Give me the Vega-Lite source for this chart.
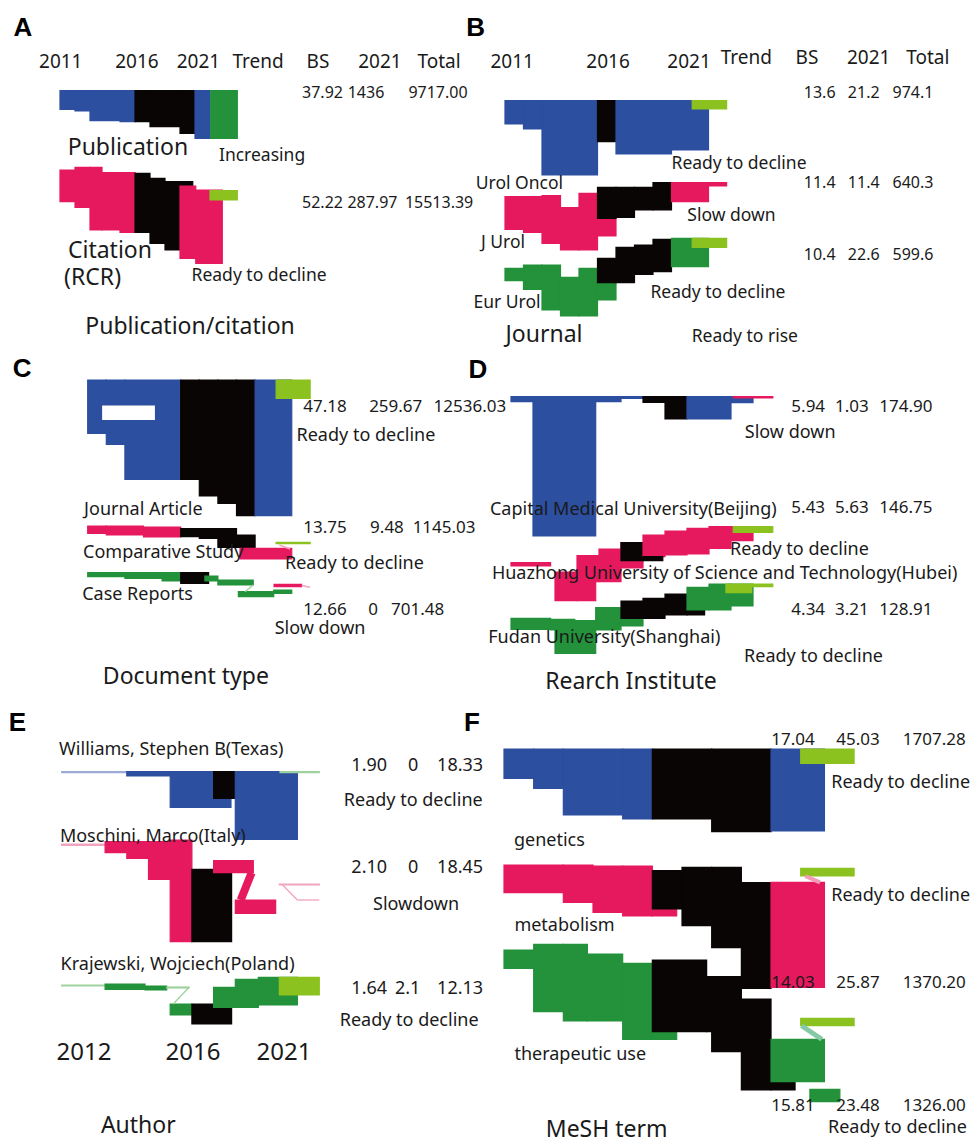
{
"$schema": "https://vega.github.io/schema/vega-lite/v6.json",
"padding": 0,
"background": "white",
"datasets": {
"bars": [
{"panel":"A","kind":"s1","start":2012,"end":2013,"top":90.7,"bottom":109.3},
{"panel":"A","kind":"s1","start":2013,"end":2014,"top":90.7,"bottom":111},
{"panel":"A","kind":"s1","start":2014,"end":2016,"top":90.7,"bottom":120.7},
{"panel":"A","kind":"s1","start":2016,"end":2017,"top":90.7,"bottom":121.7},
{"panel":"A","kind":"burst","start":2017,"end":2018,"top":90.7,"bottom":121.7},
{"panel":"A","kind":"burst","start":2018,"end":2020,"top":90.7,"bottom":126.7},
{"panel":"A","kind":"burst","start":2020,"end":2021,"top":90.7,"bottom":133.3},
{"panel":"A","kind":"s1","start":2021,"end":2022,"top":90.7,"bottom":138.3},
{"panel":"A","kind":"up","start":2022.05,"end":2023.82,"top":90.7,"bottom":138.3},
{"panel":"A","kind":"s2","start":2012,"end":2013,"top":170,"bottom":201.7},
{"panel":"A","kind":"s2","start":2013,"end":2014,"top":167.3,"bottom":207.3},
{"panel":"A","kind":"s2","start":2014,"end":2014.8,"top":167.3,"bottom":230},
{"panel":"A","kind":"s2","start":2014.8,"end":2016,"top":172.7,"bottom":230},
{"panel":"A","kind":"s2","start":2016,"end":2017,"top":172.7,"bottom":232.3},
{"panel":"A","kind":"burst","start":2017,"end":2018,"top":173.3,"bottom":232.3},
{"panel":"A","kind":"burst","start":2018,"end":2019,"top":178.3,"bottom":243.3},
{"panel":"A","kind":"burst","start":2019,"end":2020,"top":181.7,"bottom":250},
{"panel":"A","kind":"burst","start":2020,"end":2020.85,"top":181.7,"bottom":186},
{"panel":"A","kind":"s2","start":2020,"end":2021.05,"top":186,"bottom":258.3},
{"panel":"A","kind":"s2","start":2021.05,"end":2022.82,"top":190,"bottom":263.3},
{"panel":"A","kind":"trend","start":2022,"end":2023.82,"top":190.7,"bottom":200},

{"panel":"B","kind":"s1","start":2011,"end":2012,"top":100.7,"bottom":124},
{"panel":"B","kind":"s1","start":2012,"end":2013,"top":100.7,"bottom":129},
{"panel":"B","kind":"s1","start":2013,"end":2016,"top":100.7,"bottom":175},
{"panel":"B","kind":"burst","start":2016,"end":2017,"top":100.7,"bottom":141.7},
{"panel":"B","kind":"s1","start":2017,"end":2020,"top":100.7,"bottom":154},
{"panel":"B","kind":"s1","start":2020,"end":2022,"top":100.7,"bottom":150},
{"panel":"B","kind":"trend","start":2021.12,"end":2022.98,"top":100.7,"bottom":109},
{"panel":"B","kind":"s2","start":2011,"end":2012,"top":196.7,"bottom":229.3},
{"panel":"B","kind":"s2","start":2012,"end":2013,"top":196.7,"bottom":232.3},
{"panel":"B","kind":"s2","start":2013,"end":2014,"top":195.7,"bottom":243.3},
{"panel":"B","kind":"s2","start":2014,"end":2015,"top":207.7,"bottom":250},
{"panel":"B","kind":"s2","start":2015,"end":2016,"top":193.3,"bottom":250},
{"panel":"B","kind":"s2","start":2016,"end":2017,"top":193.3,"bottom":236},
{"panel":"B","kind":"burst","start":2016,"end":2017,"top":187.3,"bottom":218.3},
{"panel":"B","kind":"burst","start":2017,"end":2018,"top":187.3,"bottom":217.3},
{"panel":"B","kind":"burst","start":2018,"end":2019,"top":187.3,"bottom":210},
{"panel":"B","kind":"burst","start":2019,"end":2020,"top":182.7,"bottom":210},
{"panel":"B","kind":"s2","start":2020,"end":2022,"top":182.7,"bottom":201.7},
{"panel":"B","kind":"s2","start":2022,"end":2022.98,"top":182.7,"bottom":186},
{"panel":"B","kind":"s3","start":2011,"end":2012,"top":268.3,"bottom":280.7},
{"panel":"B","kind":"s3","start":2012,"end":2013,"top":265,"bottom":289.3},
{"panel":"B","kind":"s3","start":2013,"end":2014,"top":265,"bottom":310},
{"panel":"B","kind":"s3","start":2014,"end":2015,"top":277.3,"bottom":316},
{"panel":"B","kind":"s3","start":2015,"end":2016,"top":268.3,"bottom":316},
{"panel":"B","kind":"s3","start":2016,"end":2017,"top":268.3,"bottom":300},
{"panel":"B","kind":"burst","start":2016,"end":2017,"top":258.3,"bottom":282.7},
{"panel":"B","kind":"burst","start":2017,"end":2018,"top":247.3,"bottom":282.7},
{"panel":"B","kind":"burst","start":2018,"end":2019,"top":245,"bottom":274.3},
{"panel":"B","kind":"burst","start":2019,"end":2020,"top":239.3,"bottom":271.7},
{"panel":"B","kind":"s3","start":2020,"end":2022,"top":238.3,"bottom":266.7},
{"panel":"B","kind":"trend","start":2021.12,"end":2022.98,"top":238.3,"bottom":247.3},

{"panel":"C","kind":"s1","start":2011,"end":2012,"top":30,"bottom":83.3},
{"panel":"C","kind":"s1","start":2012,"end":2013,"top":30,"bottom":94.3},
{"panel":"C","kind":"s1","start":2013,"end":2016,"top":30,"bottom":129.3},
{"panel":"C","kind":"white","start":2011.81,"end":2014.58,"top":56,"bottom":69.3},
{"panel":"C","kind":"burst","start":2016,"end":2017,"top":30,"bottom":129.3},
{"panel":"C","kind":"burst","start":2017,"end":2018,"top":30,"bottom":146},
{"panel":"C","kind":"burst","start":2018,"end":2019,"top":30,"bottom":153.3},
{"panel":"C","kind":"burst","start":2019,"end":2020,"top":30,"bottom":165.7},
{"panel":"C","kind":"s1","start":2020,"end":2021.97,"top":30,"bottom":165.7},
{"panel":"C","kind":"trend","start":2021.13,"end":2022.96,"top":30,"bottom":48.3},
{"panel":"C","kind":"s2","start":2011,"end":2012,"top":176,"bottom":183.3},
{"panel":"C","kind":"s2","start":2012,"end":2014,"top":176,"bottom":185},
{"panel":"C","kind":"s2","start":2014,"end":2016,"top":177,"bottom":187},
{"panel":"C","kind":"burst","start":2016,"end":2017,"top":178.7,"bottom":186.7},
{"panel":"C","kind":"burst","start":2017,"end":2018,"top":178.7,"bottom":188.3},
{"panel":"C","kind":"burst","start":2018,"end":2019,"top":178.7,"bottom":197.3},
{"panel":"C","kind":"burst","start":2019,"end":2020,"top":185,"bottom":197.3},
{"panel":"C","kind":"s2","start":2019.19,"end":2021.97,"top":198.3,"bottom":209},
{"panel":"C","kind":"trend","start":2021.13,"end":2022.96,"top":192.3,"bottom":193.7},
{"panel":"C","kind":"s3","start":2011,"end":2013,"top":222.7,"bottom":226.7},
{"panel":"C","kind":"s3","start":2013,"end":2015,"top":222.7,"bottom":228.3},
{"panel":"C","kind":"s3","start":2015,"end":2016,"top":222.7,"bottom":231},
{"panel":"C","kind":"burst","start":2016,"end":2017.5,"top":222.7,"bottom":233.3},
{"panel":"C","kind":"s3","start":2017.3,"end":2018,"top":226,"bottom":231},
{"panel":"C","kind":"s3","start":2018,"end":2019.9,"top":230,"bottom":235},
{"panel":"C","kind":"s3","start":2019.1,"end":2021,"top":241.7,"bottom":246.7},
{"panel":"C","kind":"s3","start":2021,"end":2021.97,"top":240,"bottom":243.3},
{"panel":"C","kind":"s2","start":2021.02,"end":2022.5,"top":234.3,"bottom":236.7},

{"panel":"D","kind":"s1","start":2011,"end":2012,"top":46.7,"bottom":51.7},
{"panel":"D","kind":"s1","start":2012,"end":2014.85,"top":46.7,"bottom":186},
{"panel":"D","kind":"s1","start":2014.85,"end":2016,"top":46.7,"bottom":51.7},
{"panel":"D","kind":"s1","start":2016,"end":2017,"top":46.7,"bottom":48.3},
{"panel":"D","kind":"burst","start":2017,"end":2018,"top":46.7,"bottom":52.3},
{"panel":"D","kind":"burst","start":2018,"end":2019,"top":46.7,"bottom":69},
{"panel":"D","kind":"s1","start":2019,"end":2021,"top":46.7,"bottom":69},
{"panel":"D","kind":"s1","start":2021,"end":2022,"top":46.7,"bottom":52.7},
{"panel":"D","kind":"s2","start":2021.1,"end":2022.9,"top":46.7,"bottom":48},
{"panel":"D","kind":"s2","start":2011,"end":2012.8,"top":212.7,"bottom":216},
{"panel":"D","kind":"s2","start":2013,"end":2014,"top":222,"bottom":250.7},
{"panel":"D","kind":"s2","start":2014,"end":2014.85,"top":205.7,"bottom":250.7},
{"panel":"D","kind":"s2","start":2014.85,"end":2015,"top":205.7,"bottom":231.7},
{"panel":"D","kind":"s2","start":2015,"end":2016,"top":199,"bottom":231.7},
{"panel":"D","kind":"s2","start":2016,"end":2017,"top":192.7,"bottom":218},
{"panel":"D","kind":"burst","start":2016,"end":2017,"top":192.7,"bottom":210.7},
{"panel":"D","kind":"s2","start":2017,"end":2018,"top":185,"bottom":206.7},
{"panel":"D","kind":"burst","start":2017,"end":2017.9,"top":206.7,"bottom":210.7},
{"panel":"D","kind":"s2","start":2018,"end":2019,"top":181,"bottom":205},
{"panel":"D","kind":"s2","start":2019,"end":2020,"top":178.3,"bottom":204},
{"panel":"D","kind":"s2","start":2020,"end":2021,"top":176.7,"bottom":198.3},
{"panel":"D","kind":"s2","start":2021,"end":2022,"top":176.7,"bottom":190.7},
{"panel":"D","kind":"trend","start":2021.1,"end":2022.9,"top":176.7,"bottom":182.3},
{"panel":"D","kind":"s3","start":2011,"end":2012.8,"top":268.3,"bottom":279.3},
{"panel":"D","kind":"s3","start":2012.8,"end":2013.9,"top":269.3,"bottom":280},
{"panel":"D","kind":"s3","start":2013,"end":2014.85,"top":280,"bottom":303.3},
{"panel":"D","kind":"s3","start":2013.9,"end":2014.85,"top":270.7,"bottom":280},
{"panel":"D","kind":"s3","start":2014.85,"end":2016,"top":257.7,"bottom":280},
{"panel":"D","kind":"s3","start":2016,"end":2017,"top":268.3,"bottom":276},
{"panel":"D","kind":"burst","start":2016,"end":2017,"top":251,"bottom":268.3},
{"panel":"D","kind":"burst","start":2017,"end":2018,"top":248.3,"bottom":268.3},
{"panel":"D","kind":"burst","start":2018,"end":2019,"top":244,"bottom":265},
{"panel":"D","kind":"burst","start":2019,"end":2019.8,"top":260,"bottom":265},
{"panel":"D","kind":"s3","start":2019,"end":2020,"top":237.3,"bottom":260},
{"panel":"D","kind":"s3","start":2020,"end":2021,"top":234,"bottom":260},
{"panel":"D","kind":"s3","start":2021,"end":2022,"top":234,"bottom":256},
{"panel":"D","kind":"trend","start":2020.77,"end":2021.94,"top":234,"bottom":242.7},
{"panel":"D","kind":"trend","start":2021.94,"end":2022.9,"top":234,"bottom":236.7},

{"panel":"E","kind":"f1","start":2011,"end":2014,"top":71.7,"bottom":72.7},
{"panel":"E","kind":"s1","start":2014,"end":2016,"top":71.7,"bottom":76},
{"panel":"E","kind":"s1","start":2016,"end":2018,"top":71.7,"bottom":107.3},
{"panel":"E","kind":"s1","start":2018,"end":2018.8,"top":98.3,"bottom":107.3},
{"panel":"E","kind":"burst","start":2018,"end":2019,"top":71.7,"bottom":98.3},
{"panel":"E","kind":"s1","start":2019,"end":2021.86,"top":71.7,"bottom":139.3},
{"panel":"E","kind":"f3","start":2021.06,"end":2022.87,"top":71.7,"bottom":72.7},
{"panel":"E","kind":"f2","start":2011,"end":2013,"top":144,"bottom":145.3},
{"panel":"E","kind":"s2","start":2013,"end":2014,"top":141.7,"bottom":152.7},
{"panel":"E","kind":"s2","start":2014,"end":2015,"top":141.7,"bottom":158.3},
{"panel":"E","kind":"s2","start":2015,"end":2016,"top":141.7,"bottom":179.3},
{"panel":"E","kind":"s2","start":2016,"end":2017,"top":140,"bottom":241.7},
{"panel":"E","kind":"burst","start":2017,"end":2018.83,"top":169.3,"bottom":241.7},
{"panel":"E","kind":"s2","start":2018,"end":2019.83,"top":160.7,"bottom":172.7},
{"panel":"E","kind":"s2","start":2019,"end":2020.86,"top":200,"bottom":213.3},
{"panel":"E","kind":"f2","start":2021.03,"end":2022.87,"top":184,"bottom":185},
{"panel":"E","kind":"f3","start":2011,"end":2013,"top":285,"bottom":286},
{"panel":"E","kind":"s3","start":2013,"end":2014.84,"top":284,"bottom":289.3},
{"panel":"E","kind":"s3","start":2014.84,"end":2015.84,"top":286,"bottom":290},
{"panel":"E","kind":"f3","start":2015.84,"end":2016.87,"top":287,"bottom":288},
{"panel":"E","kind":"s3","start":2016,"end":2017,"top":304,"bottom":315},
{"panel":"E","kind":"burst","start":2017,"end":2018.83,"top":304,"bottom":324},
{"panel":"E","kind":"s3","start":2018,"end":2019,"top":287.3,"bottom":307.3},
{"panel":"E","kind":"s3","start":2019,"end":2020.06,"top":279.3,"bottom":307.3},
{"panel":"E","kind":"s3","start":2020.06,"end":2021.86,"top":277.3,"bottom":305},
{"panel":"E","kind":"trend","start":2021.03,"end":2022.87,"top":277.3,"bottom":295},

{"panel":"F","kind":"s1","start":2011,"end":2012,"top":49,"bottom":78.3},
{"panel":"F","kind":"s1","start":2012,"end":2013,"top":49,"bottom":88.3},
{"panel":"F","kind":"s1","start":2013,"end":2015,"top":49,"bottom":115},
{"panel":"F","kind":"s1","start":2015,"end":2016,"top":49,"bottom":119},
{"panel":"F","kind":"burst","start":2016,"end":2018,"top":49,"bottom":119},
{"panel":"F","kind":"burst","start":2018,"end":2020,"top":49,"bottom":131.7},
{"panel":"F","kind":"s1","start":2020,"end":2021.8,"top":49,"bottom":131},
{"panel":"F","kind":"trend","start":2021,"end":2022.8,"top":49,"bottom":63.3},
{"panel":"F","kind":"s2","start":2011,"end":2013,"top":165,"bottom":192.7},
{"panel":"F","kind":"s2","start":2013,"end":2014,"top":165,"bottom":202.3},
{"panel":"F","kind":"s2","start":2014,"end":2015,"top":166,"bottom":212.3},
{"panel":"F","kind":"s2","start":2015,"end":2016,"top":166,"bottom":216},
{"panel":"F","kind":"s2","start":2016,"end":2016.82,"top":209,"bottom":216},
{"panel":"F","kind":"burst","start":2016,"end":2017,"top":170.7,"bottom":209},
{"panel":"F","kind":"burst","start":2017,"end":2018,"top":167.3,"bottom":225.7},
{"panel":"F","kind":"burst","start":2018,"end":2019,"top":167.3,"bottom":247.7},
{"panel":"F","kind":"burst","start":2019,"end":2020,"top":182.7,"bottom":288.3},
{"panel":"F","kind":"s2","start":2020,"end":2021.8,"top":182.3,"bottom":287.3},
{"panel":"F","kind":"trend","start":2021,"end":2022.8,"top":168.3,"bottom":176},
{"panel":"F","kind":"s3","start":2011,"end":2012,"top":250,"bottom":268.3},
{"panel":"F","kind":"s3","start":2012,"end":2013,"top":244.3,"bottom":311.7},
{"panel":"F","kind":"s3","start":2013,"end":2013.81,"top":244.3,"bottom":321},
{"panel":"F","kind":"s3","start":2013.81,"end":2015,"top":254,"bottom":321},
{"panel":"F","kind":"s3","start":2015,"end":2016,"top":263.3,"bottom":339.3},
{"panel":"F","kind":"s3","start":2016,"end":2016.82,"top":331.7,"bottom":339.3},
{"panel":"F","kind":"burst","start":2016,"end":2017.83,"top":260,"bottom":331.7},
{"panel":"F","kind":"burst","start":2017.83,"end":2018,"top":276.7,"bottom":331.7},
{"panel":"F","kind":"burst","start":2018,"end":2019,"top":276.7,"bottom":351.7},
{"panel":"F","kind":"burst","start":2019,"end":2020,"top":299,"bottom":390},
{"panel":"F","kind":"burst","start":2020,"end":2020.81,"top":381.7,"bottom":390},
{"panel":"F","kind":"s3","start":2020,"end":2021.8,"top":339.3,"bottom":381.7},
{"panel":"F","kind":"s3","start":2021.31,"end":2022.32,"top":389.3,"bottom":401.7},
{"panel":"F","kind":"trend","start":2021,"end":2022.8,"top":318.3,"bottom":325.7}
],
"links": [
{"panel":"C","kind":"f3","x":2019.89,"y":235,"x2":2019.46,"y2":241.7},
{"panel":"C","kind":"f2","x":2021.3,"y":195,"x2":2021.88,"y2":199},
{"panel":"C","kind":"f2","x":2022.5,"y":235.5,"x2":2022.95,"y2":237.3},
{"panel":"E","kind":"s2","x":2019.75,"y":172.7,"x2":2019.25,"y2":200},
{"panel":"E","kind":"f2","x":2021.18,"y":185,"x2":2021.86,"y2":200},
{"panel":"E","kind":"f2","x":2021.86,"y":200,"x2":2022.87,"y2":200},
{"panel":"E","kind":"f3","x":2016.87,"y":287.3,"x2":2016.14,"y2":304},
{"panel":"F","kind":"lp","x":2021.15,"y":176,"x2":2021.65,"y2":182.3},
{"panel":"F","kind":"lt","x":2021.03,"y":325.7,"x2":2021.71,"y2":339.3}
],
"texts": [
{"panel":"A","label":"A","role":"L","x":2009.53,"y":28},
{"panel":"A","label":"2011","role":"H","x":2012.05,"y":62},
{"panel":"A","label":"2016","role":"H","x":2017.13,"y":62},
{"panel":"A","label":"2021","role":"H","x":2021.23,"y":62},
{"panel":"A","label":"Trend","role":"H","x":2025.2,"y":62},
{"panel":"A","label":"BS","role":"H","x":2029.2,"y":62},
{"panel":"A","label":"2021","role":"H","x":2033.33,"y":62},
{"panel":"A","label":"Total","role":"H","x":2037.27,"y":62},
{"panel":"A","label":"37.92","role":"s","x":2029.5,"y":93},
{"panel":"A","label":"1436","role":"s","x":2032.4,"y":93},
{"panel":"A","label":"9717.00","role":"s","x":2037.2,"y":93},
{"panel":"A","label":"52.22","role":"s","x":2029.5,"y":203},
{"panel":"A","label":"287.97","role":"s","x":2032.83,"y":203},
{"panel":"A","label":"15513.39","role":"s","x":2037.27,"y":203},
{"panel":"A","label":"Publication","role":"T","x":2016.53,"y":148},
{"panel":"A","label":"Increasing","role":"l","x":2025.47,"y":156},
{"panel":"A","label":"Citation","role":"T","x":2015.33,"y":251},
{"panel":"A","label":"(RCR)","role":"T","x":2014.17,"y":278},
{"panel":"A","label":"Ready to decline","role":"l","x":2025.27,"y":276},
{"panel":"A","label":"Publication/citation","role":"T","x":2020.67,"y":327},

{"panel":"B","label":"B","role":"L","x":2009.41,"y":28},
{"panel":"B","label":"2011","role":"H","x":2011.39,"y":62},
{"panel":"B","label":"2016","role":"H","x":2016.57,"y":62},
{"panel":"B","label":"2021","role":"H","x":2020.95,"y":62},
{"panel":"B","label":"Trend","role":"H","x":2024.04,"y":58},
{"panel":"B","label":"BS","role":"H","x":2027.32,"y":58},
{"panel":"B","label":"2021","role":"H","x":2030.66,"y":58},
{"panel":"B","label":"Total","role":"H","x":2033.85,"y":58},
{"panel":"B","label":"13.6","role":"s","x":2028.01,"y":93.3},
{"panel":"B","label":"21.2","role":"s","x":2030.39,"y":93.3},
{"panel":"B","label":"974.1","role":"s","x":2033.05,"y":93.3},
{"panel":"B","label":"11.4","role":"s","x":2028.01,"y":183.3},
{"panel":"B","label":"11.4","role":"s","x":2030.39,"y":183.3},
{"panel":"B","label":"640.3","role":"s","x":2033.05,"y":183.3},
{"panel":"B","label":"10.4","role":"s","x":2028.01,"y":255},
{"panel":"B","label":"22.6","role":"s","x":2030.39,"y":255},
{"panel":"B","label":"599.6","role":"s","x":2033.05,"y":255},
{"panel":"B","label":"Urol Oncol","role":"l","x":2011.78,"y":184},
{"panel":"B","label":"J Urol","role":"l","x":2010.89,"y":242.5},
{"panel":"B","label":"Eur Urol","role":"l","x":2011.11,"y":302.5},
{"panel":"B","label":"Journal","role":"T","x":2013.11,"y":335},
{"panel":"B","label":"Ready to decline","role":"l","x":2023.65,"y":164},
{"panel":"B","label":"Slow down","role":"l","x":2023.24,"y":216},
{"panel":"B","label":"Ready to decline","role":"l","x":2022.51,"y":293},
{"panel":"B","label":"Ready to rise","role":"l","x":2023.96,"y":336.7},

{"panel":"C","label":"C","role":"L","x":2007.47,"y":19},
{"panel":"C","label":"47.18","role":"s","x":2023.76,"y":56.7},
{"panel":"C","label":"259.67","role":"s","x":2027.56,"y":56.7},
{"panel":"C","label":"12536.03","role":"s","x":2031.55,"y":56.7},
{"panel":"C","label":"Ready to decline","role":"l","x":2025.96,"y":86},
{"panel":"C","label":"Journal Article","role":"l","x":2013.99,"y":160},
{"panel":"C","label":"13.75","role":"s","x":2023.76,"y":178},
{"panel":"C","label":"9.48","role":"s","x":2027.09,"y":178},
{"panel":"C","label":"1145.03","role":"s","x":2030.16,"y":178},
{"panel":"C","label":"Comparative Study","role":"l","x":2015.06,"y":202.8},
{"panel":"C","label":"Ready to decline","role":"l","x":2025.34,"y":214},
{"panel":"C","label":"Case Reports","role":"l","x":2013.68,"y":245},
{"panel":"C","label":"12.66","role":"s","x":2023.76,"y":260},
{"panel":"C","label":"0","role":"s","x":2026.34,"y":260},
{"panel":"C","label":"701.48","role":"s","x":2028.74,"y":260},
{"panel":"C","label":"Slow down","role":"l","x":2023.49,"y":278.7},
{"panel":"C","label":"Document type","role":"T","x":2016.28,"y":326.7},

{"panel":"D","label":"D","role":"L","x":2009.5,"y":20},
{"panel":"D","label":"5.94","role":"s","x":2024.51,"y":56.7},
{"panel":"D","label":"1.03","role":"s","x":2026.49,"y":56.7},
{"panel":"D","label":"174.90","role":"s","x":2028.95,"y":56.7},
{"panel":"D","label":"Slow down","role":"l","x":2023.69,"y":82.5},
{"panel":"D","label":"Capital Medical University(Beijing)","role":"l","x":2016.56,"y":160},
{"panel":"D","label":"5.43","role":"s","x":2024.51,"y":158.3},
{"panel":"D","label":"5.63","role":"s","x":2026.49,"y":158.3},
{"panel":"D","label":"146.75","role":"s","x":2028.95,"y":158.3},
{"panel":"D","label":"Ready to decline","role":"l","x":2024.11,"y":200},
{"panel":"D","label":"Huazhong University of Science and Technology(Hubei)","role":"l","x":2020.71,"y":224},
{"panel":"D","label":"4.34","role":"s","x":2024.51,"y":260},
{"panel":"D","label":"3.21","role":"s","x":2026.49,"y":260},
{"panel":"D","label":"128.91","role":"s","x":2028.95,"y":260},
{"panel":"D","label":"Fudan University(Shanghai)","role":"l","x":2015.24,"y":288},
{"panel":"D","label":"Ready to decline","role":"l","x":2024.75,"y":306.7},
{"panel":"D","label":"Rearch Institute","role":"T","x":2016.45,"y":332.3},

{"panel":"E","label":"E","role":"L","x":2008.96,"y":23.3},
{"panel":"E","label":"Williams, Stephen B(Texas)","role":"l","x":2016.05,"y":50},
{"panel":"E","label":"Moschini, Marco(Italy)","role":"l","x":2015.2,"y":136.7},
{"panel":"E","label":"Krajewski, Wojciech(Poland)","role":"l","x":2016.34,"y":265},
{"panel":"E","label":"1.90","role":"s","x":2025.17,"y":65.8},
{"panel":"E","label":"0","role":"s","x":2027.2,"y":65.8},
{"panel":"E","label":"18.33","role":"s","x":2029.36,"y":65.8},
{"panel":"E","label":"Ready to decline","role":"l","x":2027.2,"y":100.8},
{"panel":"E","label":"2.10","role":"s","x":2025.17,"y":167.5},
{"panel":"E","label":"0","role":"s","x":2027.2,"y":167.5},
{"panel":"E","label":"18.45","role":"s","x":2029.36,"y":167.5},
{"panel":"E","label":"Slowdown","role":"l","x":2027.33,"y":205},
{"panel":"E","label":"1.64","role":"s","x":2025.17,"y":289.2},
{"panel":"E","label":"2.1","role":"s","x":2026.94,"y":289.2},
{"panel":"E","label":"12.13","role":"s","x":2029.36,"y":289.2},
{"panel":"E","label":"Ready to decline","role":"l","x":2027.01,"y":320.8},
{"panel":"E","label":"2012","role":"Y","x":2012.03,"y":353.3},
{"panel":"E","label":"2016","role":"Y","x":2017.05,"y":353.3},
{"panel":"E","label":"2021","role":"Y","x":2021.24,"y":353.3},
{"panel":"E","label":"Author","role":"T","x":2014.53,"y":425.8},

{"panel":"F","label":"F","role":"L","x":2009.92,"y":23.3},
{"panel":"F","label":"17.04","role":"s","x":2020.74,"y":40},
{"panel":"F","label":"45.03","role":"s","x":2022.93,"y":40},
{"panel":"F","label":"1707.28","role":"s","x":2025.5,"y":40},
{"panel":"F","label":"Ready to decline","role":"l","x":2024.37,"y":83.3},
{"panel":"F","label":"genetics","role":"l","x":2012.53,"y":141.3},
{"panel":"F","label":"Ready to decline","role":"l","x":2024.37,"y":196},
{"panel":"F","label":"metabolism","role":"l","x":2013.04,"y":225.8},
{"panel":"F","label":"14.03","role":"s","x":2020.74,"y":283.3},
{"panel":"F","label":"25.87","role":"s","x":2022.93,"y":283.3},
{"panel":"F","label":"1370.20","role":"s","x":2025.5,"y":283.3},
{"panel":"F","label":"therapeutic use","role":"l","x":2013.57,"y":355},
{"panel":"F","label":"15.81","role":"s","x":2020.74,"y":405.8},
{"panel":"F","label":"23.48","role":"s","x":2022.93,"y":405.8},
{"panel":"F","label":"1326.00","role":"s","x":2025.5,"y":405.8},
{"panel":"F","label":"Ready to decline","role":"l","x":2024.26,"y":428.3},
{"panel":"F","label":"MeSH term","role":"T","x":2014.46,"y":430}
]
},
"columns": 2,
"spacing": 0,
"bounds": "flush",
"align": "each",
"concat": [
 {"width": 480, "height": 350, "layer": [
  {"data": {"name": "bars"}, "transform": [{"filter": "datum.panel === 'A'"}], "mark": {"type": "rect", "strokeWidth": 1.2},
   "encoding": {"x": {"field": "start", "type": "quantitative", "scale": {"domain": [2008, 2040], "nice": false, "zero": false}, "axis": null}, "x2": {"field": "end"},
    "y": {"field": "top", "type": "quantitative", "scale": {"domain": [0, 350], "reverse": true, "nice": false, "zero": false}, "axis": null}, "y2": {"field": "bottom"},
    "color": {"field": "kind", "type": "nominal", "legend": null, "scale": {"domain": ["s1","s2","s3","burst","trend","up","white","f1","f2","f3","lp","lt"], "range": ["#2C4FA0","#E6195F","#23923B","#0A0505","#8CC21F","#23923B","#FFFFFF","#9DAAD8","#F2A3BD","#9FD19F","#F29BB6","#86C9A5"]}},
    "stroke": {"field": "kind", "type": "nominal", "legend": null, "scale": {"domain": ["s1","s2","s3","burst","trend","up","white","f1","f2","f3","lp","lt"], "range": ["#2C4FA0","#E6195F","#23923B","#0A0505","#8CC21F","#23923B","#FFFFFF","#9DAAD8","#F2A3BD","#9FD19F","#F29BB6","#86C9A5"]}}}},
  {"data": {"name": "texts"}, "transform": [{"filter": "datum.panel === 'A' && datum.role !== 'L'"}],
   "mark": {"type": "text", "font": "Noto Sans", "baseline": "middle", "align": "center", "color": "#1a1a1a", "fontSize": {"expr": "datum.role === 'T' ? 23 : datum.role === 'H' ? 19 : datum.role === 's' ? 16 : 17.5"}},
   "encoding": {"x": {"field": "x", "type": "quantitative", "scale": {"domain": [2008, 2040], "nice": false, "zero": false}, "axis": null},
    "y": {"field": "y", "type": "quantitative", "scale": {"domain": [0, 350], "reverse": true, "nice": false, "zero": false}, "axis": null}, "text": {"field": "label"}}},
  {"data": {"name": "texts"}, "transform": [{"filter": "datum.panel === 'A' && datum.role === 'L'"}],
   "mark": {"type": "text", "font": "Liberation Sans", "fontWeight": "bold", "fontSize": 26, "baseline": "middle", "align": "center", "color": "#000000"},
   "encoding": {"x": {"field": "x", "type": "quantitative", "scale": {"domain": [2008, 2040], "nice": false, "zero": false}, "axis": null},
    "y": {"field": "y", "type": "quantitative", "scale": {"domain": [0, 350], "reverse": true, "nice": false, "zero": false}, "axis": null}, "text": {"field": "label"}}}
 ]},
 {"width": 491, "height": 350, "layer": [
  {"data": {"name": "bars"}, "transform": [{"filter": "datum.panel === 'B'"}], "mark": {"type": "rect", "strokeWidth": 1.2},
   "encoding": {"x": {"field": "start", "type": "quantitative", "scale": {"domain": [2009.649, 2036.189], "nice": false, "zero": false}, "axis": null}, "x2": {"field": "end"},
    "y": {"field": "top", "type": "quantitative", "scale": {"domain": [0, 350], "reverse": true, "nice": false, "zero": false}, "axis": null}, "y2": {"field": "bottom"},
    "color": {"field": "kind", "type": "nominal", "legend": null, "scale": {"domain": ["s1","s2","s3","burst","trend","up","white","f1","f2","f3","lp","lt"], "range": ["#2C4FA0","#E6195F","#23923B","#0A0505","#8CC21F","#23923B","#FFFFFF","#9DAAD8","#F2A3BD","#9FD19F","#F29BB6","#86C9A5"]}},
    "stroke": {"field": "kind", "type": "nominal", "legend": null, "scale": {"domain": ["s1","s2","s3","burst","trend","up","white","f1","f2","f3","lp","lt"], "range": ["#2C4FA0","#E6195F","#23923B","#0A0505","#8CC21F","#23923B","#FFFFFF","#9DAAD8","#F2A3BD","#9FD19F","#F29BB6","#86C9A5"]}}}},
  {"data": {"name": "texts"}, "transform": [{"filter": "datum.panel === 'B' && datum.role !== 'L'"}],
   "mark": {"type": "text", "font": "Noto Sans", "baseline": "middle", "align": "center", "color": "#1a1a1a", "fontSize": {"expr": "datum.role === 'T' ? 23 : datum.role === 'H' ? 19 : datum.role === 's' ? 16 : 17.5"}},
   "encoding": {"x": {"field": "x", "type": "quantitative", "scale": {"domain": [2009.649, 2036.189], "nice": false, "zero": false}, "axis": null},
    "y": {"field": "y", "type": "quantitative", "scale": {"domain": [0, 350], "reverse": true, "nice": false, "zero": false}, "axis": null}, "text": {"field": "label"}}},
  {"data": {"name": "texts"}, "transform": [{"filter": "datum.panel === 'B' && datum.role === 'L'"}],
   "mark": {"type": "text", "font": "Liberation Sans", "fontWeight": "bold", "fontSize": 26, "baseline": "middle", "align": "center", "color": "#000000"},
   "encoding": {"x": {"field": "x", "type": "quantitative", "scale": {"domain": [2009.649, 2036.189], "nice": false, "zero": false}, "axis": null},
    "y": {"field": "y", "type": "quantitative", "scale": {"domain": [0, 350], "reverse": true, "nice": false, "zero": false}, "axis": null}, "text": {"field": "label"}}}
 ]},
 {"width": 480, "height": 350, "layer": [
  {"data": {"name": "bars"}, "transform": [{"filter": "datum.panel === 'C'"}], "mark": {"type": "rect", "strokeWidth": 1.2},
   "encoding": {"x": {"field": "start", "type": "quantitative", "scale": {"domain": [2006.285, 2032.091], "nice": false, "zero": false}, "axis": null}, "x2": {"field": "end"},
    "y": {"field": "top", "type": "quantitative", "scale": {"domain": [0, 350], "reverse": true, "nice": false, "zero": false}, "axis": null}, "y2": {"field": "bottom"},
    "color": {"field": "kind", "type": "nominal", "legend": null, "scale": {"domain": ["s1","s2","s3","burst","trend","up","white","f1","f2","f3","lp","lt"], "range": ["#2C4FA0","#E6195F","#23923B","#0A0505","#8CC21F","#23923B","#FFFFFF","#9DAAD8","#F2A3BD","#9FD19F","#F29BB6","#86C9A5"]}},
    "stroke": {"field": "kind", "type": "nominal", "legend": null, "scale": {"domain": ["s1","s2","s3","burst","trend","up","white","f1","f2","f3","lp","lt"], "range": ["#2C4FA0","#E6195F","#23923B","#0A0505","#8CC21F","#23923B","#FFFFFF","#9DAAD8","#F2A3BD","#9FD19F","#F29BB6","#86C9A5"]}}}},
  {"data": {"name": "links"}, "transform": [{"filter": "datum.panel === 'C'"}],
   "mark": {"type": "rule", "strokeWidth": {"expr": "datum.kind === 's2' ? 8 : datum.kind === 'lp' ? 4 : datum.kind === 'lt' ? 5 : 1.5"}},
   "encoding": {"x": {"field": "x", "type": "quantitative", "scale": {"domain": [2006.285, 2032.091], "nice": false, "zero": false}, "axis": null}, "x2": {"field": "x2"},
    "y": {"field": "y", "type": "quantitative", "scale": {"domain": [0, 350], "reverse": true, "nice": false, "zero": false}, "axis": null}, "y2": {"field": "y2"},
    "color": {"field": "kind", "type": "nominal", "legend": null, "scale": {"domain": ["s1","s2","s3","burst","trend","up","white","f1","f2","f3","lp","lt"], "range": ["#2C4FA0","#E6195F","#23923B","#0A0505","#8CC21F","#23923B","#FFFFFF","#9DAAD8","#F2A3BD","#9FD19F","#F29BB6","#86C9A5"]}}}},
  {"data": {"name": "texts"}, "transform": [{"filter": "datum.panel === 'C' && datum.role !== 'L'"}],
   "mark": {"type": "text", "font": "Noto Sans", "baseline": "middle", "align": "center", "color": "#1a1a1a", "fontSize": {"expr": "datum.role === 'T' ? 23 : datum.role === 'H' ? 19 : datum.role === 's' ? 17 : 18"}},
   "encoding": {"x": {"field": "x", "type": "quantitative", "scale": {"domain": [2006.285, 2032.091], "nice": false, "zero": false}, "axis": null},
    "y": {"field": "y", "type": "quantitative", "scale": {"domain": [0, 350], "reverse": true, "nice": false, "zero": false}, "axis": null}, "text": {"field": "label"}}},
  {"data": {"name": "texts"}, "transform": [{"filter": "datum.panel === 'C' && datum.role === 'L'"}],
   "mark": {"type": "text", "font": "Liberation Sans", "fontWeight": "bold", "fontSize": 26, "baseline": "middle", "align": "center", "color": "#000000"},
   "encoding": {"x": {"field": "x", "type": "quantitative", "scale": {"domain": [2006.285, 2032.091], "nice": false, "zero": false}, "axis": null},
    "y": {"field": "y", "type": "quantitative", "scale": {"domain": [0, 350], "reverse": true, "nice": false, "zero": false}, "axis": null}, "text": {"field": "label"}}}
 ]},
 {"width": 491, "height": 350, "layer": [
  {"data": {"name": "bars"}, "transform": [{"filter": "datum.panel === 'D'"}], "mark": {"type": "rect", "strokeWidth": 1.2},
   "encoding": {"x": {"field": "start", "type": "quantitative", "scale": {"domain": [2009.591, 2031.909], "nice": false, "zero": false}, "axis": null}, "x2": {"field": "end"},
    "y": {"field": "top", "type": "quantitative", "scale": {"domain": [0, 350], "reverse": true, "nice": false, "zero": false}, "axis": null}, "y2": {"field": "bottom"},
    "color": {"field": "kind", "type": "nominal", "legend": null, "scale": {"domain": ["s1","s2","s3","burst","trend","up","white","f1","f2","f3","lp","lt"], "range": ["#2C4FA0","#E6195F","#23923B","#0A0505","#8CC21F","#23923B","#FFFFFF","#9DAAD8","#F2A3BD","#9FD19F","#F29BB6","#86C9A5"]}},
    "stroke": {"field": "kind", "type": "nominal", "legend": null, "scale": {"domain": ["s1","s2","s3","burst","trend","up","white","f1","f2","f3","lp","lt"], "range": ["#2C4FA0","#E6195F","#23923B","#0A0505","#8CC21F","#23923B","#FFFFFF","#9DAAD8","#F2A3BD","#9FD19F","#F29BB6","#86C9A5"]}}}},
  {"data": {"name": "texts"}, "transform": [{"filter": "datum.panel === 'D' && datum.role !== 'L'"}],
   "mark": {"type": "text", "font": "Noto Sans", "baseline": "middle", "align": "center", "color": "#1a1a1a", "fontSize": {"expr": "datum.role === 'T' ? 23 : datum.role === 'H' ? 19 : datum.role === 's' ? 17 : 18"}},
   "encoding": {"x": {"field": "x", "type": "quantitative", "scale": {"domain": [2009.591, 2031.909], "nice": false, "zero": false}, "axis": null},
    "y": {"field": "y", "type": "quantitative", "scale": {"domain": [0, 350], "reverse": true, "nice": false, "zero": false}, "axis": null}, "text": {"field": "label"}}},
  {"data": {"name": "texts"}, "transform": [{"filter": "datum.panel === 'D' && datum.role === 'L'"}],
   "mark": {"type": "text", "font": "Liberation Sans", "fontWeight": "bold", "fontSize": 26, "baseline": "middle", "align": "center", "color": "#000000"},
   "encoding": {"x": {"field": "x", "type": "quantitative", "scale": {"domain": [2009.591, 2031.909], "nice": false, "zero": false}, "axis": null},
    "y": {"field": "y", "type": "quantitative", "scale": {"domain": [0, 350], "reverse": true, "nice": false, "zero": false}, "axis": null}, "text": {"field": "label"}}}
 ]},
 {"width": 480, "height": 441, "layer": [
  {"data": {"name": "bars"}, "transform": [{"filter": "datum.panel === 'E'"}], "mark": {"type": "rect", "strokeWidth": 1.2},
   "encoding": {"x": {"field": "start", "type": "quantitative", "scale": {"domain": [2008.157, 2030.276], "nice": false, "zero": false}, "axis": null}, "x2": {"field": "end"},
    "y": {"field": "top", "type": "quantitative", "scale": {"domain": [0, 441], "reverse": true, "nice": false, "zero": false}, "axis": null}, "y2": {"field": "bottom"},
    "color": {"field": "kind", "type": "nominal", "legend": null, "scale": {"domain": ["s1","s2","s3","burst","trend","up","white","f1","f2","f3","lp","lt"], "range": ["#2C4FA0","#E6195F","#23923B","#0A0505","#8CC21F","#23923B","#FFFFFF","#9DAAD8","#F2A3BD","#9FD19F","#F29BB6","#86C9A5"]}},
    "stroke": {"field": "kind", "type": "nominal", "legend": null, "scale": {"domain": ["s1","s2","s3","burst","trend","up","white","f1","f2","f3","lp","lt"], "range": ["#2C4FA0","#E6195F","#23923B","#0A0505","#8CC21F","#23923B","#FFFFFF","#9DAAD8","#F2A3BD","#9FD19F","#F29BB6","#86C9A5"]}}}},
  {"data": {"name": "links"}, "transform": [{"filter": "datum.panel === 'E'"}],
   "mark": {"type": "rule", "strokeWidth": {"expr": "datum.kind === 's2' ? 8 : datum.kind === 'lp' ? 4 : datum.kind === 'lt' ? 5 : 1.3"}},
   "encoding": {"x": {"field": "x", "type": "quantitative", "scale": {"domain": [2008.157, 2030.276], "nice": false, "zero": false}, "axis": null}, "x2": {"field": "x2"},
    "y": {"field": "y", "type": "quantitative", "scale": {"domain": [0, 441], "reverse": true, "nice": false, "zero": false}, "axis": null}, "y2": {"field": "y2"},
    "color": {"field": "kind", "type": "nominal", "legend": null, "scale": {"domain": ["s1","s2","s3","burst","trend","up","white","f1","f2","f3","lp","lt"], "range": ["#2C4FA0","#E6195F","#23923B","#0A0505","#8CC21F","#23923B","#FFFFFF","#9DAAD8","#F2A3BD","#9FD19F","#F29BB6","#86C9A5"]}}}},
  {"data": {"name": "texts"}, "transform": [{"filter": "datum.panel === 'E' && datum.role !== 'L'"}],
   "mark": {"type": "text", "font": "Noto Sans", "baseline": "middle", "align": "center", "color": "#1a1a1a", "fontSize": {"expr": "datum.role === 'T' ? 23 : datum.role === 'Y' ? 24 : 18"}},
   "encoding": {"x": {"field": "x", "type": "quantitative", "scale": {"domain": [2008.157, 2030.276], "nice": false, "zero": false}, "axis": null},
    "y": {"field": "y", "type": "quantitative", "scale": {"domain": [0, 441], "reverse": true, "nice": false, "zero": false}, "axis": null}, "text": {"field": "label"}}},
  {"data": {"name": "texts"}, "transform": [{"filter": "datum.panel === 'E' && datum.role === 'L'"}],
   "mark": {"type": "text", "font": "Liberation Sans", "fontWeight": "bold", "fontSize": 26, "baseline": "middle", "align": "center", "color": "#000000"},
   "encoding": {"x": {"field": "x", "type": "quantitative", "scale": {"domain": [2008.157, 2030.276], "nice": false, "zero": false}, "axis": null},
    "y": {"field": "y", "type": "quantitative", "scale": {"domain": [0, 441], "reverse": true, "nice": false, "zero": false}, "axis": null}, "text": {"field": "label"}}}
 ]},
 {"width": 491, "height": 441, "layer": [
  {"data": {"name": "bars"}, "transform": [{"filter": "datum.panel === 'F'"}], "mark": {"type": "rect", "strokeWidth": 1.2},
   "encoding": {"x": {"field": "start", "type": "quantitative", "scale": {"domain": [2010.191, 2026.74], "nice": false, "zero": false}, "axis": null}, "x2": {"field": "end"},
    "y": {"field": "top", "type": "quantitative", "scale": {"domain": [0, 441], "reverse": true, "nice": false, "zero": false}, "axis": null}, "y2": {"field": "bottom"},
    "color": {"field": "kind", "type": "nominal", "legend": null, "scale": {"domain": ["s1","s2","s3","burst","trend","up","white","f1","f2","f3","lp","lt"], "range": ["#2C4FA0","#E6195F","#23923B","#0A0505","#8CC21F","#23923B","#FFFFFF","#9DAAD8","#F2A3BD","#9FD19F","#F29BB6","#86C9A5"]}},
    "stroke": {"field": "kind", "type": "nominal", "legend": null, "scale": {"domain": ["s1","s2","s3","burst","trend","up","white","f1","f2","f3","lp","lt"], "range": ["#2C4FA0","#E6195F","#23923B","#0A0505","#8CC21F","#23923B","#FFFFFF","#9DAAD8","#F2A3BD","#9FD19F","#F29BB6","#86C9A5"]}}}},
  {"data": {"name": "links"}, "transform": [{"filter": "datum.panel === 'F'"}],
   "mark": {"type": "rule", "strokeWidth": {"expr": "datum.kind === 's2' ? 8 : datum.kind === 'lp' ? 4 : datum.kind === 'lt' ? 5 : 1.3"}},
   "encoding": {"x": {"field": "x", "type": "quantitative", "scale": {"domain": [2010.191, 2026.74], "nice": false, "zero": false}, "axis": null}, "x2": {"field": "x2"},
    "y": {"field": "y", "type": "quantitative", "scale": {"domain": [0, 441], "reverse": true, "nice": false, "zero": false}, "axis": null}, "y2": {"field": "y2"},
    "color": {"field": "kind", "type": "nominal", "legend": null, "scale": {"domain": ["s1","s2","s3","burst","trend","up","white","f1","f2","f3","lp","lt"], "range": ["#2C4FA0","#E6195F","#23923B","#0A0505","#8CC21F","#23923B","#FFFFFF","#9DAAD8","#F2A3BD","#9FD19F","#F29BB6","#86C9A5"]}}}},
  {"data": {"name": "texts"}, "transform": [{"filter": "datum.panel === 'F' && datum.role !== 'L'"}],
   "mark": {"type": "text", "font": "Noto Sans", "baseline": "middle", "align": "center", "color": "#1a1a1a", "fontSize": {"expr": "datum.role === 'T' ? 23 : datum.role === 's' ? 17 : 18"}},
   "encoding": {"x": {"field": "x", "type": "quantitative", "scale": {"domain": [2010.191, 2026.74], "nice": false, "zero": false}, "axis": null},
    "y": {"field": "y", "type": "quantitative", "scale": {"domain": [0, 441], "reverse": true, "nice": false, "zero": false}, "axis": null}, "text": {"field": "label"}}},
  {"data": {"name": "texts"}, "transform": [{"filter": "datum.panel === 'F' && datum.role === 'L'"}],
   "mark": {"type": "text", "font": "Liberation Sans", "fontWeight": "bold", "fontSize": 26, "baseline": "middle", "align": "center", "color": "#000000"},
   "encoding": {"x": {"field": "x", "type": "quantitative", "scale": {"domain": [2010.191, 2026.74], "nice": false, "zero": false}, "axis": null},
    "y": {"field": "y", "type": "quantitative", "scale": {"domain": [0, 441], "reverse": true, "nice": false, "zero": false}, "axis": null}, "text": {"field": "label"}}}
 ]}
],
"config": {"view": {"stroke": null}}
}
